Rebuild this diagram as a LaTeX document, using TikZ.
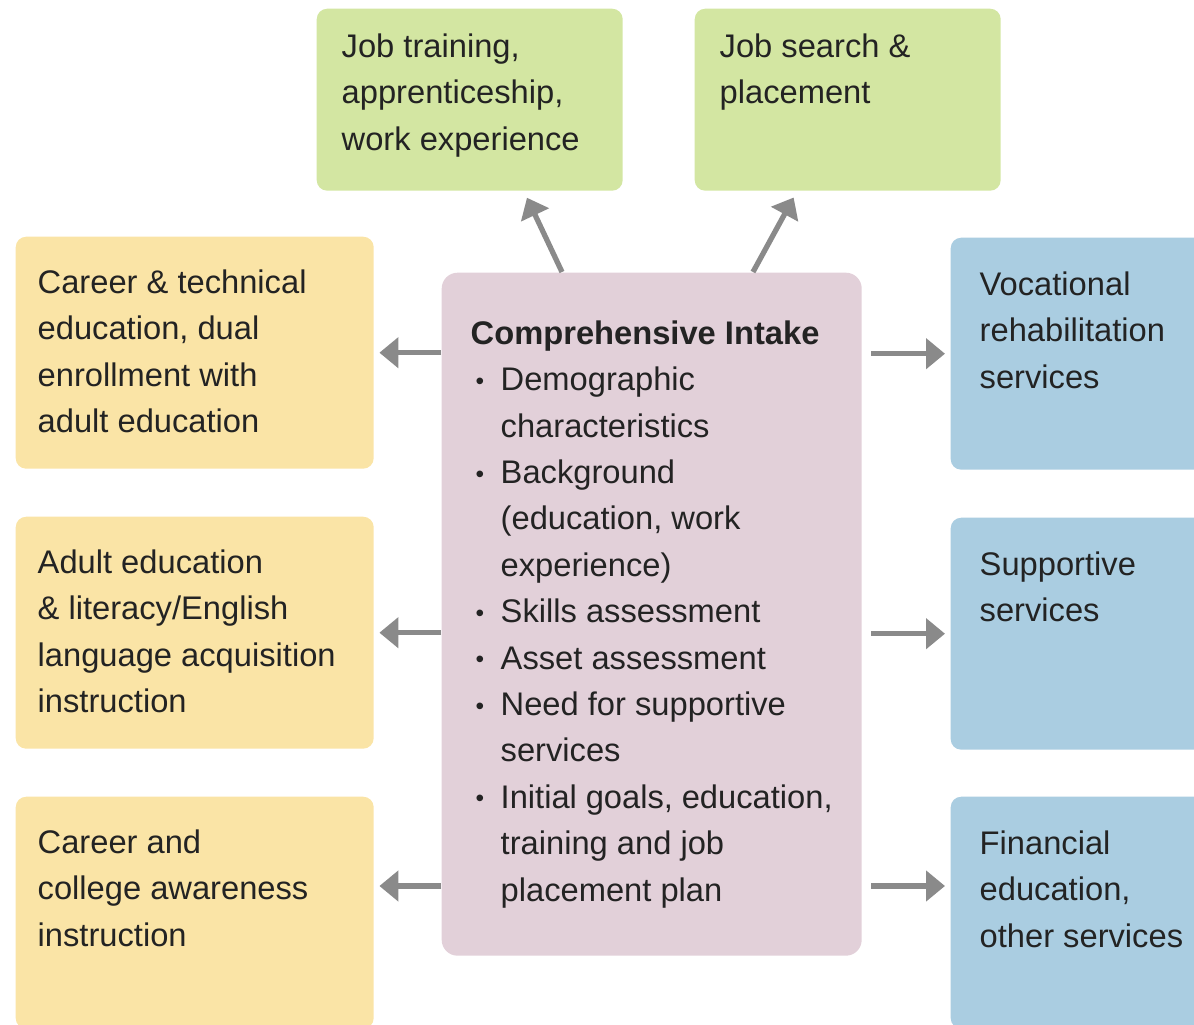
\documentclass[tikz,border=0pt]{standalone}
\usepackage{fontspec}
\setmainfont{Liberation Sans}
\usetikzlibrary{positioning,calc,arrows.meta}

\definecolor{traingreen}{RGB}{211,230,162}
\definecolor{eduyellow}{RGB}{250,228,166}
\definecolor{intakepink}{RGB}{226,208,217}
\definecolor{serviceblue}{RGB}{170,205,225}
\definecolor{linkgray}{RGB}{138,138,138}
\definecolor{inkgray}{RGB}{35,35,35}

\newcommand{\boxtext}[3]{\begin{minipage}[t][#2][t]{#1}\raggedright #3\end{minipage}}
\newcommand{\intakeitem}[1]{\par\hangindent=0.30cm\hangafter=1\noindent\makebox[0.30cm][l]{\hspace{0.05cm}\raisebox{0.04em}{\scalebox{0.75}{\textbullet}}}#1}

\begin{document}
\begin{tikzpicture}
\tikzset{
    every node/.style = {font=\fontsize{9.3}{13.2}\selectfont, text=inkgray, inner sep=0pt},
    panel/.style = {fill=#1, rounded corners=3pt, anchor=north west},
    link/.style = {draw=linkgray, line width=1.5pt, -{Triangle[length=0.19cm, width=0.30cm]}},
}
\useasboundingbox (0,0) rectangle (11.94,-10.25);
\clip (0,0) rectangle (11.94,-10.25);

% -------------------------------------------------------
\node[panel=intakepink, rounded corners=4.5pt, inner xsep=0.29cm, inner ysep=0.48cm] (intake) at (4.41,-2.72) {\boxtext{3.62cm}{5.87cm}{%
    \textbf{Comprehensive Intake}
    \intakeitem{Demographic\newline characteristics}
    \intakeitem{Background\newline (education, work\newline experience)}
    \intakeitem{Skills assessment}
    \intakeitem{Asset assessment}
    \intakeitem{Need for supportive\newline services}
    \intakeitem{Initial goals, education,\newline training and job\newline placement plan}}};

\node[panel=traingreen, inner xsep=0.25cm, inner ysep=0.25cm] (train) at (3.16,-0.08) {\boxtext{2.56cm}{1.32cm}{
    Job training,\\apprenticeship,\\work experience}};
\node[panel=traingreen, inner xsep=0.25cm, inner ysep=0.25cm] (search) at (6.94,-0.08) {\boxtext{2.56cm}{1.32cm}{
    Job search \&\\placement}};

\node[panel=eduyellow, inner xsep=0.22cm, inner ysep=0.33cm] (career) at (0.15,-2.36) {\boxtext{3.14cm}{1.66cm}{
    Career \& technical\\education, dual\\enrollment with\\adult education}};
\node[panel=eduyellow, inner xsep=0.22cm, inner ysep=0.33cm] (adulted) at (0.15,-5.16) {\boxtext{3.14cm}{1.66cm}{
    Adult education\\\& literacy/English\\language acquisition\\instruction}};
\node[panel=eduyellow, inner xsep=0.22cm, inner ysep=0.33cm] (awareness) at (0.15,-7.96) {\boxtext{3.14cm}{1.66cm}{
    Career and\\college awareness\\instruction}};

\node[panel=serviceblue, inner xsep=0.29cm, inner ysep=0.34cm] (vocrehab) at (9.50,-2.37) {\boxtext{2.30cm}{1.64cm}{
    Vocational\\rehabilitation\\services}};
\node[panel=serviceblue, inner xsep=0.29cm, inner ysep=0.34cm] (support) at (9.50,-5.17) {\boxtext{2.30cm}{1.64cm}{
    Supportive\\services}};
\node[panel=serviceblue, inner xsep=0.29cm, inner ysep=0.34cm] (finance) at (9.50,-7.96) {\boxtext{2.30cm}{1.64cm}{
    Financial\\education,\\other services}};

% -------------------------------------------------------
\coordinate (trainfoot) at ($(train.south west)+(2.08,0)$);
\coordinate (searchfoot) at ($(search.south west)+(1.03,0)$);
\coordinate (awarenessport) at ($(awareness.north east)+(0,-0.90)$);
\coordinate (financeport) at ($(finance.north west)+(0,-0.90)$);

\draw[link, shorten >=0.07cm] ($(intake.north west)+(1.21,0)$) -- (trainfoot);
\draw[link, shorten >=0.07cm] ($(intake.north west)+(3.12,0)$) -- (searchfoot);

\draw[link, shorten >=0.05cm] (intake.west |- career.east) -- (career.east);
\draw[link, shorten >=0.05cm] (intake.west |- adulted.east) -- (adulted.east);
\draw[link, shorten >=0.05cm] (intake.west |- awarenessport) -- (awarenessport);

\draw[link, shorten <=0.09cm, shorten >=0.05cm] (intake.east |- vocrehab.west) -- (vocrehab.west);
\draw[link, shorten <=0.09cm, shorten >=0.05cm] (intake.east |- support.west) -- (support.west);
\draw[link, shorten <=0.09cm, shorten >=0.05cm] (intake.east |- financeport) -- (financeport);
\end{tikzpicture}
\end{document}
